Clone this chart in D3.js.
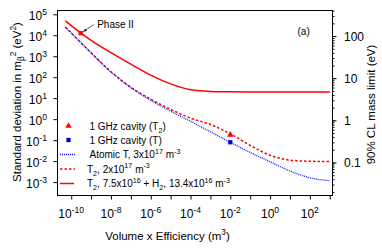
<!DOCTYPE html>
<html><head><meta charset="utf-8">
<script src="https://cdn.jsdelivr.net/npm/d3@7"></script>
<style>
html,body{margin:0;padding:0;background:#fff;}
text{font-family:"Liberation Sans",Arial,sans-serif;fill:#000;}
</style></head>
<body><svg id="c" width="382" height="251"></svg>
<script>
// ---------- data ----------
const volume   = [5.1e-11, 1e-10, 1e-9, 1e-8, 1e-7, 1e-6, 1e-5, 1e-4, 1e-3, 1e-2, 1e-1, 1, 10, 100, 1000];
const atomicT  = [24500, 12900, 1450, 178, 31.6, 7.9, 2.4, 0.79, 0.25, 0.079, 0.026, 0.0093, 0.0034, 0.0016, 0.00117];
const t2Pure   = [24500, 12900, 1450, 182, 33, 8.9, 2.95, 1.12, 0.56, 0.20, 0.056, 0.019, 0.0112, 0.0098, 0.0095];
const t2H2     = [49000, 28800, 5750, 1480, 417, 126, 47.9, 25.1, 20.9, 20.0, 19.7, 19.7, 19.7, 19.7, 19.7];
const phaseII  = {v: 3.0e-10, s: 12600};
const cavityT2 = {v: 1e-2, s: 0.18};
const cavityT  = {v: 1e-2, s: 0.079};
const xTickExps = [-10, -9, -8, -7, -6, -5, -4, -3, -2, -1, 0, 1, 2, 3];
const xLabelExps = [-10, -8, -6, -4, -2, 0, 2];
const yTickExps = [5, 4, 3, 2, 1, 0, -1, -2, -3];
const massLabels = [0.1, 1, 10, 100];
const legendItems = [
  {kind: "tri",    segs: [["1 GHz cavity (T"], ["2", "sub"], [")"]]},
  {kind: "sq",     segs: [["1 GHz cavity (T)"]]},
  {kind: "dot",    segs: [["Atomic T, 3x10"], ["17", "sup"], [" m"], ["-3", "sup"]]},
  {kind: "dash",   segs: [["T"], ["2", "sub"], [", 2x10"], ["17", "sup"], [" m"], ["-3", "sup"]]},
  {kind: "solid",  segs: [["T"], ["2", "sub"], [", 7.5x10"], ["16", "sup"], [" + H"], ["2", "sub"], [", 13.4x10"], ["16", "sup"], [" m"], ["-3", "sup"]]}
];

// ---------- layout ----------
const L = 57.5, R = 332.5, T = 10.5, B = 195.5;
const RED = "#ff0000", BLUE = "#1010ff";
const svg = d3.select("#c");
const x = d3.scaleLog().domain([Math.pow(10, -10.69), Math.pow(10, 3.14)]).range([L, R]);
const y = d3.scaleLog().domain([Math.pow(10, 5.18), Math.pow(10, -3.64)]).range([T, B]);
const yR = d3.scaleLog().domain([Math.pow(10, 2.607), Math.pow(10, -1.784)]).range([T, B]);

function rich(sel, segs, fs) {
  let shift = 0;
  segs.forEach(([t, k]) => {
    const target = k === "sup" ? -fs * 0.42 : k === "sub" ? fs * 0.3 : 0;
    const ts = sel.append("tspan").attr("dy", target - shift).text(t);
    if (k) ts.attr("font-size", fs * 0.72);
    shift = target;
  });
}

// lines
const line = d3.line().x(d => x(d[0])).y(d => y(d[1])).curve(d3.curveMonotoneX);
const g = svg.append("g");
g.append("path").datum(volume.map((v, i) => [v, t2H2[i]]))
  .attr("d", line).attr("fill", "none").attr("stroke", RED).attr("stroke-width", 1.5);
g.append("path").datum(volume.map((v, i) => [v, t2Pure[i]]))
  .attr("d", line).attr("fill", "none").attr("stroke", RED).attr("stroke-width", 1.5)
  .attr("stroke-dasharray", "2.5,2");
g.append("path").datum(volume.map((v, i) => [v, atomicT[i]]))
  .attr("d", line).attr("fill", "none").attr("stroke", BLUE).attr("stroke-width", 1.3)
  .attr("stroke-dasharray", "1,1");

// markers
const tri = d3.symbol().type(d3.symbolTriangle).size(18);
const sq = d3.symbol().type(d3.symbolSquare).size(18);
svg.append("path").attr("d", sq()).attr("fill", RED)
  .attr("transform", `translate(${x(phaseII.v)},${y(phaseII.s)})`);
svg.append("path").attr("d", tri()).attr("fill", RED)
  .attr("transform", `translate(${x(cavityT2.v)},${y(cavityT2.s)})`);
svg.append("path").attr("d", sq()).attr("fill", "#0000cc")
  .attr("transform", `translate(${x(cavityT.v)},${y(cavityT.s)})`);

// Phase II annotation
const px = x(phaseII.v), py = y(phaseII.s);
svg.append("defs").append("marker").attr("id", "ah").attr("viewBox", "0 0 10 10")
  .attr("refX", 9).attr("refY", 5).attr("markerWidth", 5).attr("markerHeight", 5).attr("orient", "auto")
  .append("path").attr("d", "M0,1 L10,5 L0,9 Z").attr("fill", "#333");
svg.append("line").attr("x1", px + 13).attr("y1", py - 8.5).attr("x2", px + 2.5).attr("y2", py - 1.5)
  .attr("stroke", "#333").attr("stroke-width", 0.8).attr("marker-end", "url(#ah)");
svg.append("text").attr("x", px + 16.5).attr("y", py - 5).attr("font-size", 10).text("Phase II");

// frame
svg.append("rect").attr("x", L).attr("y", T).attr("width", R - L).attr("height", B - T)
  .attr("fill", "none").attr("stroke", "#000").attr("stroke-width", 1);

// bottom axis ticks
const xa = svg.append("g").attr("transform", `translate(0,${B})`)
  .call(d3.axisBottom(x).tickValues(xTickExps.map(e => Math.pow(10, e))).tickSize(4).tickFormat(""));
xa.select(".domain").remove();
xLabelExps.forEach(e => {
  const t = svg.append("text").attr("x", x(Math.pow(10, e))).attr("y", 218)
    .attr("text-anchor", "middle").attr("font-size", 12);
  rich(t, [["10"], [String(e), "sup"]], 12);
});

// left axis ticks
const ya = svg.append("g").attr("transform", `translate(${L},0)`)
  .call(d3.axisLeft(y).tickValues(yTickExps.map(e => Math.pow(10, e))).tickSize(4).tickFormat(""));
ya.select(".domain").remove();
yTickExps.forEach(e => {
  const t = svg.append("text").attr("x", 47).attr("y", y(Math.pow(10, e)) + 6)
    .attr("text-anchor", "end").attr("font-size", 12);
  rich(t, [["10"], [String(e), "sup"]], 12);
});

// right axis (mass limit)
const minor = [];
for (let d = 0.01; d < 1000; d *= 10) for (let k = 1; k < 10; k++) {
  const v = d * k; if (v >= yR.domain()[1] && v <= yR.domain()[0]) minor.push(v);
}
const ra = svg.append("g").attr("transform", `translate(${R},0)`)
  .call(d3.axisRight(yR).tickValues(minor).tickSize(2).tickFormat(""));
ra.select(".domain").remove();
const rb = svg.append("g").attr("transform", `translate(${R},0)`)
  .call(d3.axisRight(yR).tickValues(massLabels).tickSize(4).tickFormat(""));
rb.select(".domain").remove();
massLabels.forEach(m => {
  svg.append("text").attr("x", 344).attr("y", yR(m) + 4.5).attr("font-size", 12)
    .text(m < 1 ? "0.1" : String(m));
});

// titles
const xt = svg.append("text").attr("x", 167.5).attr("y", 240).attr("text-anchor", "middle").attr("font-size", 11.5);
rich(xt, [["Volume x Efficiency (m"], ["3", "sup"], [")"]], 11.5);
const ylt = svg.append("text").attr("transform", "translate(21,102) rotate(-90)")
  .attr("text-anchor", "middle").attr("font-size", 11.5);
rich(ylt, [["Standard deviation in m"], ["β", "sub"], ["2", "sup"], [" (eV"], ["2", "sup"], [")"]], 11.5);
svg.append("text").attr("transform", "translate(375,104.5) rotate(-90)")
  .attr("text-anchor", "middle").attr("font-size", 11.5).text("90% CL mass limit (eV)");
svg.append("text").attr("x", 297.5).attr("y", 35).attr("font-size", 10).text("(a)");

// legend
const legY = [126, 140, 154.5, 169, 183.5];
legendItems.forEach((it, i) => {
  const yy = legY[i];
  const gg = svg.append("g");
  if (it.kind === "tri") gg.append("path").attr("d", tri()).attr("fill", RED).attr("transform", `translate(68.5,${yy})`);
  if (it.kind === "sq") gg.append("path").attr("d", sq()).attr("fill", "#0000cc").attr("transform", `translate(68.5,${yy})`);
  if (it.kind === "dot") gg.append("line").attr("x1", 60).attr("x2", 76).attr("y1", yy).attr("y2", yy)
    .attr("stroke", BLUE).attr("stroke-width", 1.3).attr("stroke-dasharray", "1,1");
  if (it.kind === "dash") gg.append("line").attr("x1", 60).attr("x2", 75).attr("y1", yy).attr("y2", yy)
    .attr("stroke", RED).attr("stroke-width", 1.5).attr("stroke-dasharray", "2.5,2");
  if (it.kind === "solid") gg.append("line").attr("x1", 60).attr("x2", 74).attr("y1", yy).attr("y2", yy)
    .attr("stroke", RED).attr("stroke-width", 1.5);
  const tx = i < 3 ? 89.5 : 87;
  const t = gg.append("text").attr("x", tx).attr("y", yy + 3.5).attr("font-size", 10);
  rich(t, it.segs, 10);
});
</script></body></html>
